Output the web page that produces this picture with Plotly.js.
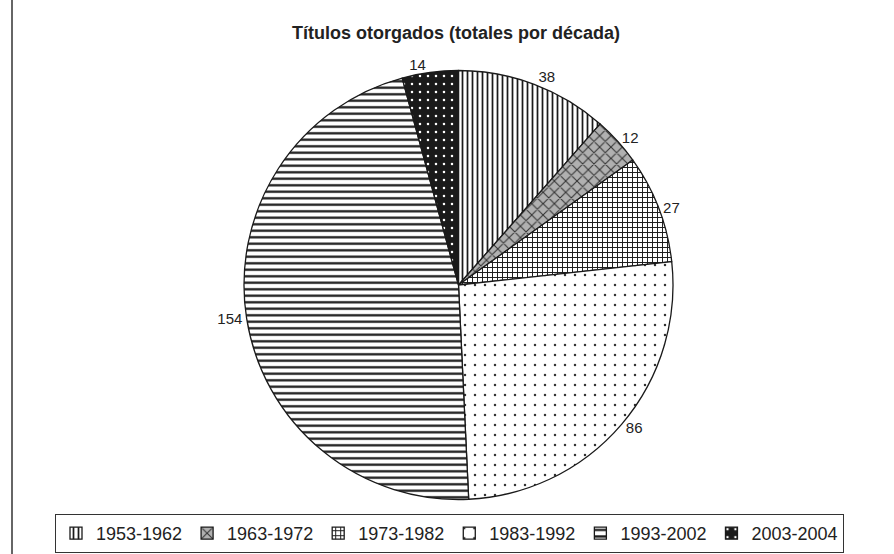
<!DOCTYPE html>
<html>
<head>
<meta charset="utf-8">
<script src="https://cdn.plot.ly/plotly-3.0.1.min.js"></script>
<style>html,body{margin:0;padding:0;background:#fff;}#chart{width:894px;height:554px;}</style>
</head>
<body>
<div id="chart"></div>
<script>
const labels = ["1953-1962", "1963-1972", "1973-1982", "1983-1992", "1993-2002", "2003-2004"];
const values = [38, 12, 27, 86, 154, 14];
const titleText = "Títulos otorgados (totales por década)";

const W = 894, H = 554;
const trace = {
  type: "pie",
  labels: labels,
  values: values,
  sort: false,
  direction: "clockwise",
  rotation: 0,
  textinfo: "value",
  textposition: "outside",
  outsidetextfont: {family: "Liberation Sans, Arial, sans-serif", size: 15, color: "#222"},
  hoverinfo: "label+value",
  domain: {x: [244 / W, 673 / W], y: [1 - 500 / H, 1 - 70 / H]},
  marker: {
    colors: ["#ffffff", "#b0b0b0", "#ffffff", "#ffffff", "#ffffff", "#1a1a1a"],
    line: {color: "#1a1a1a", width: 1.3},
    pattern: {
      shape: ["|", "x", "+", ".", "-", "."],
      fgcolor: ["#1a1a1a", "#333333", "#1a1a1a", "#333333", "#1a1a1a", "#ffffff"],
      bgcolor: ["#ffffff", "#b0b0b0", "#ffffff", "#ffffff", "#ffffff", "#1a1a1a"],
      size: [5, 8, 5, 10, 6.5, 8],
      solidity: [0.35, 0.25, 0.35, 0.05, 0.35, 0.08]
    }
  }
};

const layout = {
  width: W, height: H,
  margin: {l: 0, r: 0, t: 0, b: 0, autoexpand: false},
  paper_bgcolor: "#ffffff",
  font: {family: "Liberation Sans, Arial, sans-serif", color: "#222"},
  title: {
    text: "<b>" + titleText + "</b>",
    font: {size: 18, color: "#222"},
    x: 456 / W, xanchor: "center",
    xref: "paper",
    y: 1 - 33 / H, yanchor: "middle"
  },
  showlegend: true,
  legend: {
    orientation: "h",
    xref: "paper", yref: "paper",
    x: 55 / W, xanchor: "left",
    y: 1 - 514 / H, yanchor: "top",
    font: {size: 18, color: "#222"},
    bordercolor: "#333", borderwidth: 1,
    bgcolor: "#ffffff",
    itemwidth: 30
  },
  shapes: [{
    type: "line", xref: "paper", yref: "paper",
    x0: 12 / W, x1: 12 / W, y0: 0, y1: 1,
    line: {color: "#333", width: 1.5}
  }]
};

Plotly.newPlot("chart", [trace], layout, {displayModeBar: false, staticPlot: true});
</script>
</body>
</html>
